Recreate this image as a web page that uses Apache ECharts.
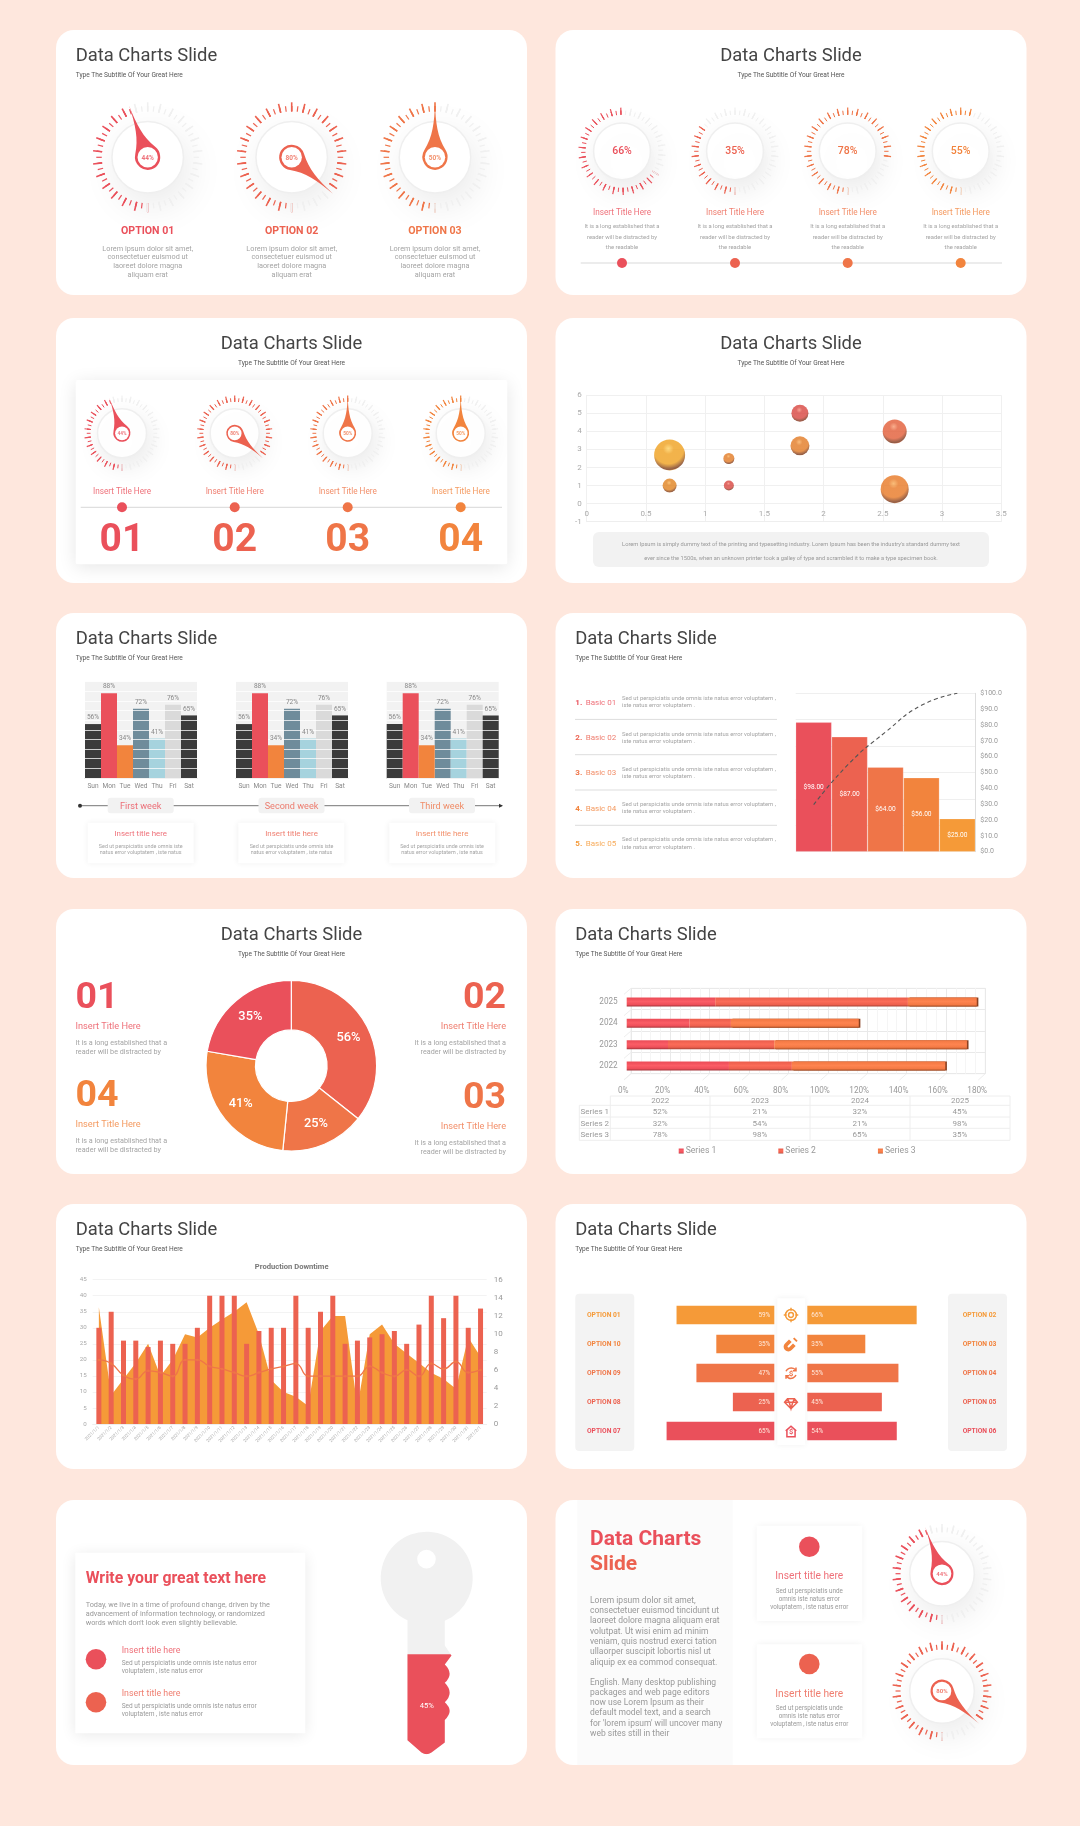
<!DOCTYPE html>
<html>
<head>
<meta charset="utf-8">
<title>Data Charts Slide</title>
<style>
html,body{margin:0;padding:0;background:#FEE7DD;}
#main{width:1080px;height:1826px;}
</style>
<script src="https://cdn.jsdelivr.net/npm/echarts@6/dist/echarts.min.js"></script>
</head>
<body>
<div id="main"></div>
<script>
/* palette */
var red = "#EA505B", coral = "#EC6250", flame = "#EF7548", orange = "#F2843D", amber = "#F59A38";
var paleTick = "#f0f0f0", grayText = "#a4a4a4", titleText = "#444444";

/* dials */
var threeDialLabels = [44, 80, 50];
var threeDialNeedles = [44.5, 86.5, 50];
var fourDialValues = [66, 35, 78, 55];
var fourDialStarts = [-33, 270, 270, 270];
var stripDialLabels = [44, 80, 50, 50];
var stripDialNeedles = [44.5, 86.5, 50, 50];
var sideDialLabels = [44, 80];
var sideDialNeedles = [44.5, 86.5];

/* bubbles */
var bubbleX = [0.7, 0.7, 1.2, 1.2, 1.8, 1.8, 2.6, 2.6];
var bubbleY = [2.7, 1, 2.5, 1, 5, 3.2, 4, 0.8];
var bubbleSize = [31, 14, 11, 10, 17, 19, 24, 28];
var bubbleColors = ["#EFA01E", "#E0821F", "#E27A24", "#D8453F", "#D8453F", "#E27A24", "#E25C36", "#E87824"];
var bubbleGlows = ["#FFD060", "#F8B458", "#F8B058", "#F58A78", "#F58A78", "#F8AC5C", "#F89A70", "#F8AC58"];

/* week bars */
var weekDays = ["Sun", "Mon", "Tue", "Wed", "Thu", "Fri", "Sat"];
var weekValues = [56, 88, 34, 72, 41, 76, 65];
var weekColors = ["#3b3b3b", red, orange, "#6F8C9B", "#A6D3DE", "#DADADA", "#3b3b3b"];
var weekNames = ["First week", "Second week", "Third week"];

/* pareto */
var basicNames = ["Basic 01", "Basic 02", "Basic 03", "Basic 04", "Basic 05"];
var basicValues = [98, 87, 64, 56, 25];
var basicCumulative = [29.7, 56, 75.5, 92.4, 100];

/* donut */
var donutValues = [56, 25, 41, 35];

/* stacked years */
var years = ["2022", "2023", "2024", "2025"];
var series1Share = [52, 21, 32, 45];
var series2Share = [32, 54, 21, 98];
var series3Share = [78, 98, 65, 35];

/* production downtime */
var downDates = ["2021/1/1", "2021/1/2", "2021/1/3", "2021/1/4", "2021/1/5", "2021/1/6", "2021/1/7", "2021/1/8", "2021/1/9", "2021/1/10", "2021/1/11", "2021/1/12", "2021/1/13", "2021/1/14", "2021/1/15", "2021/1/16", "2021/1/17", "2021/1/18", "2021/1/19", "2021/1/20", "2021/1/21", "2021/1/22", "2021/1/23", "2021/1/24", "2021/1/25", "2021/1/26", "2021/1/27", "2021/1/28", "2021/1/29", "2021/1/30", "2021/1/31", "2021/2/1"];
var downBars = [30, 35, 26, 26, 24, 26, 25, 25, 30, 40, 40, 40, 25, 29, 30, 30, 40, 30, 35, 40, 25, 26, 27, 28, 29, 25, 31, 40, 33, 40, 30, 36];
var downArea = [36.4, 9, 14, 19, 25, 15, 20, 28, 27, 30, 32.6, 35, 38, 28, 13.7, 10, 8.5, 5.6, 29, 33.7, 33.7, 5.4, 28, 31, 25, 22, 19, 16, 14, 11, 27, 21];
var downLine = [7.1, 6.7, 5.4, 5, 5.9, 5.7, 5.3, 7.1, 7.1, 6.4, 6.1, 5.7, 5.3, 5.7, 6.1, 6.4, 6.7, 5.3, 5.3, 5.3, 5.3, 5.3, 6.4, 5.7, 5.3, 6, 5.3, 6.7, 6.1, 6.9, 5.7, 6];

/* butterfly */
var leftOptions = ["OPTION 01", "OPTION 10", "OPTION 09", "OPTION 08", "OPTION 07"];
var rightOptions = ["OPTION 02", "OPTION 03", "OPTION 04", "OPTION 05", "OPTION 06"];
var leftShares = [59, 35, 47, 25, 65];
var rightShares = [66, 35, 55, 45, 54];
var rowColors = [amber, orange, flame, coral, red];

/* key */
var keyFill = 45;
var keyFull = 100;

var chart = echarts.init(document.getElementById("main"));
var grids = [], xAxes = [], yAxes = [], series = [], els = [];

function card(x, y, w, h) {
    els.push({type: "rect", z: -3, shape: {x: x, y: y, width: w, height: h, r: 18}, style: {fill: "#fff"}});
}

function box(x, y, w, h, opt) {
    opt = opt || {};
    els.push({type: "rect", z: opt.z == null ? -2 : opt.z, shape: {x: x, y: y, width: w, height: h, r: opt.r || 0},
        style: {fill: opt.fill || "#fff", shadowBlur: opt.blur || 0, shadowColor: opt.shadow || "transparent", shadowOffsetY: opt.dy || 0}});
}

function txt(x, y, s, size, color, align, weight) {
    // canvas "middle" sits a bit high, nudge by font size
    els.push({type: "text", z: 6, style: {x: x, y: y + size * 0.09, text: s, fill: color, align: align || "left", verticalAlign: "middle",
        fontSize: size, fontFamily: "Roboto", fontWeight: weight || "normal"}});
}

// the small coloured headings are paler than the full palette
function softTxt(x, y, s, size, color, align) {
    txt(x, y, s, size, color, align);
    els[els.length - 1].style.opacity = 0.82;
}

function lines(x, y, step, arr, size, color, align) {
    for (var i = 0; i < arr.length; i++) {
        txt(x, y + i * step, arr[i], size, color, align);
    }
}

function rule(x1, y1, x2, y2, color, width) {
    els.push({type: "line", z: -1, shape: {x1: x1, y1: y1, x2: x2, y2: y2}, style: {stroke: color, lineWidth: width || 1}});
}

function dot(x, y, r, color) {
    els.push({type: "circle", z: 4, shape: {cx: x, cy: y, r: r}, style: {fill: color}});
}

function slideTitle(cardX, cardY, centered) {
    var x = centered ? cardX + 235.5 : cardX + 19.7;
    var align = centered ? "center" : "left";
    txt(x, cardY + 24.5, "Data Charts Slide", 18.4, titleText, align);
    txt(x, cardY + 45, "Type The Subtitle Of Your Great Here", 6.6, "#555", align);
}

function addDial(cx, cy, r, value, color, opt) {
    opt = opt || {};
    var start = opt.start == null ? 270 : opt.start;
    els.push({type: "circle", z: -1, shape: {cx: cx, cy: cy, r: r * 0.65}, style: {fill: "#fff", stroke: "#efefef", lineWidth: 1.5,
        shadowBlur: r * 0.7, shadowOffsetX: r * 0.1, shadowOffsetY: r * 0.22, shadowColor: "rgba(0,0,0,0.09)"}});
    var label = opt.label == null ? value : opt.label;
    var gauge = {
        type: "gauge", center: [cx, cy], radius: r, startAngle: start, endAngle: start - 360, min: 0, max: 100, splitNumber: 26,
        axisLine: {show: false, lineStyle: {width: 0, color: [[value / 100, color], [1, paleTick]]}},
        splitLine: {length: r * 0.165, distance: 0, lineStyle: {color: "auto", width: r > 45 ? 1.6 : 1.2}},
        axisTick: {splitNumber: 2, length: r * 0.1, distance: r * 0.065, lineStyle: {color: "auto", width: r > 45 ? 1.2 : 1}},
        axisLabel: {show: false},
        title: {show: false},
        pointer: {show: false},
        anchor: {show: false},
        detail: {show: !opt.ring, offsetCenter: [0, 0], fontFamily: "Roboto", fontWeight: 500, color: color, fontSize: opt.labelSize || 7,
            formatter: function () { return label + "%"; }},
        data: [{value: value}]
    };
    if (opt.ring) {
        gauge.pointer = {show: true, icon: "path://M50 0C52 80 60 135 92 185A50 50 0 1 1 8 185C40 135 48 80 50 0Z",
            width: opt.ring * 2, length: r + opt.ring, offsetCenter: [0, opt.ring], itemStyle: {color: color}};
        gauge.anchor = {show: true, showAbove: true, icon: "circle", size: opt.ring * 1.62, itemStyle: {color: "#fff", borderWidth: 0}};
        // the anchor covers the gauge detail, so the label goes on top as text
        txt(cx, cy, label + "%", opt.labelSize, color, "center", "bold");
        els[els.length - 1].style.opacity = 0.8;
    }
    series.push(gauge);
}

function addCart(rect, x, y) {
    var g = grids.length;
    rect.containLabel = false;
    grids.push(rect);
    x.gridIndex = g;
    y.gridIndex = g;
    xAxes.push(x);
    yAxes.push(y);
    return {x: xAxes.length - 1, y: yAxes.length - 1};
}

/* ---- cards ---- */
var colX = [56, 555.5];
var rowY = [30, 318, 613, 909, 1204, 1500];
rowY.forEach(function (y) {
    colX.forEach(function (x) { card(x, y, 471, 265); });
});

/* ---- row 1 left: three dials ---- */
slideTitle(colX[0], rowY[0], false);
var threeX = [147.7, 291.7, 435];
var threeColors = [red, coral, flame];
threeX.forEach(function (x, i) {
    addDial(x, 157.3, 55, threeDialNeedles[i], threeColors[i], {ring: 12.6, label: threeDialLabels[i], labelSize: 6.5});
    txt(x, 230.7, "OPTION 0" + (i + 1), 10.6, threeColors[i], "center", "bold");
    lines(x, 248.3, 8.65, ["Lorem ipsum dolor sit amet,", "consectetuer euismod ut", "laoreet dolore magna", "aliquam erat"], 7.3, grayText, "center");
});

/* ---- row 1 right: four dials ---- */
slideTitle(colX[1], rowY[0], true);
var fourX = [622, 735, 847.7, 960.7];
var fourColors = [red, coral, flame, orange];
rule(580.7, 263, 1002, 263, "#e6e6e6", 1.5);
fourX.forEach(function (x, i) {
    addDial(x, 151.3, 43.7, fourDialValues[i], fourColors[i], {start: fourDialStarts[i], labelSize: 10.5});
    softTxt(x, 212, "Insert Title Here", 8.2, fourColors[i], "center");
    lines(x, 226.3, 10.5, ["It is a long established that a", "reader will be distracted by", "the readable"], 5.9, grayText, "center");
    dot(x, 263, 5, fourColors[i]);
});

/* ---- row 2 left: strip of dials ---- */
slideTitle(colX[0], rowY[1], true);
box(75.7, 380, 431.6, 184.3, {blur: 18, shadow: "rgba(0,0,0,0.10)", dy: 3, r: 2});
var stripX = [122, 234.7, 347.7, 460.7];
var stripColors = [red, coral, flame, orange];
var stripNames = ["01", "02", "03", "04"];
rule(80.7, 507.3, 502, 507.3, "#d8d8d8", 1);
stripX.forEach(function (x, i) {
    addDial(x, 433.3, 37.7, stripDialNeedles[i], stripColors[i], {ring: 8.5, label: stripDialLabels[i], labelSize: 4.8});
    softTxt(x, 491.7, "Insert Title Here", 8.2, stripColors[i], "center");
    dot(x, 507.3, 5, stripColors[i]);
    txt(x, 538, stripNames[i], 39, stripColors[i], "center", "bold");
});

/* ---- row 2 right: bubbles ---- */
slideTitle(colX[1], rowY[1], true);
// labels hang off the y=0 line, 18px above the bottom of the plot
var bubbleCart = addCart({left: 586.7, top: 395.3, width: 414.6, height: 126.4},
    {type: "value", min: 0, max: 3.5, interval: 0.5, axisLine: {onZero: false, lineStyle: {color: "#eeeeee"}}, axisTick: {show: false},
        axisLabel: {color: "#aaa", fontSize: 8, margin: -12}, splitLine: {show: true, lineStyle: {color: "#f0f0f0"}}},
    {type: "value", min: -1, max: 6, interval: 1, axisLine: {show: true, onZero: false, lineStyle: {color: "#f0f0f0"}}, axisTick: {show: false},
        axisLabel: {color: "#aaa", fontSize: 8, margin: 5}, splitLine: {lineStyle: {color: "#f0f0f0"}}});
series.push({
    type: "scatter", xAxisIndex: bubbleCart.x, yAxisIndex: bubbleCart.y,
    symbolSize: function (v) { return v[2]; },
    data: bubbleX.map(function (x, i) {
        return {value: [x, bubbleY[i], bubbleSize[i]], itemStyle: {color: new echarts.graphic.RadialGradient(0.46, 0.3, 0.72, [
            {offset: 0, color: bubbleGlows[i]}, {offset: 0.24, color: bubbleColors[i]}, {offset: 0.68, color: bubbleColors[i]}, {offset: 0.93, color: "#74341A"}, {offset: 1, color: bubbleColors[i]}
        ])}};
    })
});
box(593, 532, 396, 35, {fill: "#f2f2f2", r: 6});
lines(791, 544, 14, ["Lorem Ipsum is simply dummy text of the printing and typesetting industry. Lorem Ipsum has been the industry's standard dummy text",
    "ever since the 1500s, when an unknown printer took a galley of type and scrambled it to make a type specimen book."], 5.7, "#999", "center");

/* ---- row 3 left: week bars ---- */
slideTitle(colX[0], rowY[2], false);
var weekLeft = [85, 236, 386.7];
var weekCenter = [140.7, 291.5, 442];
var weekTitleColors = [red, coral, flame];
var weekBoxX = [87.7, 238.3, 389.3];
rule(80, 805.7, 502, 805.7, "#777", 1);
dot(80, 805.7, 2, "#333");
els.push({type: "polygon", z: 4, shape: {points: [[499, 803.7], [503, 805.7], [499, 807.7]]}, style: {fill: "#333"}});
weekLeft.forEach(function (left, w) {
    var cart = addCart({left: left, top: 681.7, width: 112, height: 96.3, show: true, backgroundColor: "#f2f2f2", borderWidth: 0},
        {type: "category", data: weekDays, axisLine: {lineStyle: {color: "#ccc"}}, axisTick: {show: false},
            axisLabel: {interval: 0, color: "#888", fontSize: 6.6, margin: 5}},
        {type: "value", min: 0, max: 100, interval: 10, z: 3, axisLabel: {show: false}, axisLine: {show: false}, axisTick: {show: false},
            splitLine: {lineStyle: {color: "rgba(255,255,255,0.75)", width: 1}}});
    // Mon and Tue sit over the white rules, the others under them
    [false, true].forEach(function (upper) {
        series.push({
            type: "bar", xAxisIndex: cart.x, yAxisIndex: cart.y, barCategoryGap: 0, barGap: "-100%", z: upper ? 4 : 2,
            data: weekValues.map(function (v, i) {
                var top = i === 1 || i === 2;
                return top === upper ? {value: v, itemStyle: {color: weekColors[i]}} : {value: null};
            })
        });
    });
    // clear bars on top only to carry the labels above the rules
    series.push({
        type: "bar", xAxisIndex: cart.x, yAxisIndex: cart.y, barCategoryGap: 0, barGap: "-100%", z: 5, itemStyle: {color: "transparent"},
        label: {show: true, position: "top", distance: 3, color: "#888", fontSize: 6.6, formatter: "{c}%"},
        data: weekValues
    });
    box(weekCenter[w] - 33, 797.7, 66, 15.6, {fill: "#f2f2f2", r: 3, z: 0});
    softTxt(weekCenter[w], 805.7, weekNames[w], 9.1, weekTitleColors[w], "center");
    box(weekBoxX[w], 822.7, 106, 40.6, {blur: 6, shadow: "rgba(0,0,0,0.07)"});
    softTxt(weekCenter[w], 833, "Insert title here", 7.9, weekTitleColors[w], "center");
    lines(weekCenter[w], 846, 6.4, ["Sed ut perspiciatis unde omnis iste", "natus error voluptatem , iste natus"], 5.4, grayText, "center");
});

/* ---- row 3 right: pareto ---- */
slideTitle(colX[1], rowY[2], false);
var basicColors = [red, coral, flame, orange, amber];
basicNames.forEach(function (name, i) {
    var y = 702 + i * 35.3;
    txt(575.3, y, (i + 1) + ".", 8, basicColors[i], "left", "bold");
    softTxt(585.7, y, name, 8, basicColors[i]);
    lines(622, y - 3.7, 7.2, ["Sed ut perspiciatis unde omnis iste natus error voluptatem ,", "iste natus error voluptatem ."], 5.85, grayText);
    if (i < 4) { rule(575, y + 17.4, 777, y + 17.4, "#dddddd", 1); }
});
var paretoCart = addCart({left: 795.7, top: 693.3, width: 179.6, height: 158.4},
    {type: "category", data: basicNames, axisLabel: {show: false}, axisTick: {show: false}, axisLine: {show: false}},
    {type: "value", min: 0, max: 120, interval: 20, axisLabel: {show: false}, axisLine: {show: false}, axisTick: {show: false},
        splitLine: {lineStyle: {color: "#efefef"}}});
yAxes.push({gridIndex: grids.length - 1, type: "value", position: "right", min: 0, max: 100, interval: 10,
    axisLine: {show: true, lineStyle: {color: "#dddddd"}}, axisTick: {show: false}, splitLine: {show: false},
    axisLabel: {color: "#999", fontSize: 7, margin: 5, formatter: function (v) { return "$" + v.toFixed(1); }}});
series.push({
    type: "bar", xAxisIndex: paretoCart.x, yAxisIndex: paretoCart.y, barCategoryGap: 0,
    label: {show: true, position: "inside", color: "#fff", fontSize: 6.6, formatter: function (p) { return "$" + p.value.toFixed(2); }},
    data: basicValues.map(function (v, i) {
        return {value: v, itemStyle: {color: basicColors[i], borderColor: "rgba(255,255,255,0.4)", borderWidth: 0.5}};
    })
});
series.push({
    type: "line", xAxisIndex: paretoCart.x, yAxisIndex: yAxes.length - 1, smooth: true, symbol: "none", z: 5,
    lineStyle: {color: "#555", width: 1.1, type: [4, 3]}, data: basicCumulative
});

/* ---- row 4 left: donut ---- */
slideTitle(colX[0], rowY[3], true);
series.push({
    type: "pie", center: [291.3, 1065.7], radius: [35.8, 85.3], startAngle: 90, silent: true,
    itemStyle: {borderColor: "#fff", borderWidth: 1.2},
    label: {show: true, position: "inside", color: "#fff", fontFamily: "Roboto", fontWeight: 500, fontSize: 12.8, formatter: "{c}%"},
    labelLine: {show: false},
    data: donutValues.map(function (v, i) {
        return {value: v, itemStyle: {color: [coral, flame, orange, red][i]}};
    })
});
function donutNote(x, numY, label, color, align, titleY, lineY) {
    txt(x, numY, label, 37.5, color, align, "bold");
    softTxt(x, titleY, "Insert Title Here", 9.2, color, align);
    lines(x, lineY, 8.65, ["It is a long established that a", "reader will be distracted by"], 7.2, grayText, align);
}
donutNote(75.5, 995, "01", red, "left", 1026, 1042.7);
donutNote(75.5, 1093.3, "04", orange, "left", 1124.3, 1141);
donutNote(506, 995, "02", coral, "right", 1026, 1042.7);
donutNote(506, 1095, "03", flame, "right", 1126, 1142.7);

/* ---- row 4 right: stacked years ---- */
slideTitle(colX[1], rowY[3], false);
// back wall of the fake 3d plot
var wallCart = addCart({left: 631, top: 988.3, width: 354.3, height: 85.4, show: true, borderColor: "#eeeeee", borderWidth: 1, backgroundColor: "transparent"},
    {type: "value", min: 0, max: 180, interval: 20, axisLine: {show: false}, axisTick: {show: false}, axisLabel: {show: false},
        splitLine: {lineStyle: {color: "#e9e9e9"}}, minorTick: {show: false, splitNumber: 4}, minorSplitLine: {show: true, lineStyle: {color: "#f5f5f5"}}},
    {type: "value", min: 0, max: 4, interval: 1, axisLine: {show: false}, axisTick: {show: false}, axisLabel: {show: false},
        splitLine: {lineStyle: {color: "#e9e9e9"}}});
for (var t = 0; t <= 9; t++) {
    var floorX = 631 + t * 354.3 / 9;
    rule(floorX, 1073.7, floorX - 7, 1080, "#eeeeee", 1);
}
for (var h = 0; h <= 4; h++) {
    var wallY = 988.3 + h * 85.4 / 4;
    rule(631, wallY, 624, wallY + 6, "#eeeeee", 1);
}
var yearCart = addCart({left: 626.7, top: 991.3, width: 354, height: 85.4},
    {type: "value", min: 0, max: 180, interval: 20, splitLine: {show: false}, axisLine: {show: false}, axisTick: {show: false},
        axisLabel: {color: "#999", fontSize: 8.2, margin: 10, padding: [0, 7, 0, 0], formatter: "{value}%"}},
    {type: "category", data: years, axisLine: {show: false}, axisTick: {show: false},
        axisLabel: {color: "#999", fontSize: 8.2, margin: 9, padding: [5, 0, 0, 0]}});
function tube(light, mid, dark) {
    return new echarts.graphic.LinearGradient(0, 0, 0, 1, [
        {offset: 0, color: mid}, {offset: 0.12, color: mid}, {offset: 0.45, color: light}, {offset: 0.78, color: mid}, {offset: 1, color: dark}
    ]);
}
var yearSeries = [
    {name: "Series 1", data: series1Share, color: tube("#FB5D66", "#EE4F5A", "#A5353B")},
    {name: "Series 2", data: series2Share, color: tube("#FB6C58", "#EE604E", "#A84234")},
    {name: "Series 3", data: series3Share, color: tube("#FE8450", "#F47A45", "#AE5228")}
];
yearSeries.forEach(function (s, i) {
    var style = {color: s.color};
    if (i === 2) {
        style.shadowColor = "#8A4020";
        style.shadowOffsetX = 1.6;
        style.shadowBlur = 0;
    }
    series.push({type: "bar", name: s.name, stack: "years", barWidth: 9, xAxisIndex: yearCart.x, yAxisIndex: yearCart.y,
        itemStyle: style, data: s.data});
});
// data table under the plot
var tableCols = [610.3, 710, 810, 910, 1010];
var tableRowsY = [1096, 1105.3, 1117, 1128.3, 1140.3];
tableRowsY.forEach(function (y, i) {
    rule(i === 0 ? 610.3 : 579.3, y, 1010, y, "#eeeeee", 1);
});
rule(579.3, 1105.3, 579.3, 1140.3, "#eeeeee", 1);
tableCols.forEach(function (x) { rule(x, 1096, x, 1140.3, "#eeeeee", 1); });
years.forEach(function (y, c) {
    txt(tableCols[c] + 50, 1100.6, y, 8, "#999", "center");
    yearSeries.forEach(function (s, r) {
        txt(tableCols[c] + 50, 1111.3 + r * 11.6, s.data[c] + "%", 8, "#999", "center");
    });
});
yearSeries.forEach(function (s, r) {
    txt(580.5, 1111.3 + r * 11.6, s.name, 8, "#999");
});

/* ---- row 5 left: production downtime ---- */
slideTitle(colX[0], rowY[4], false);
txt(291.7, 1266, "Production Downtime", 7.6, "#777", "center", "bold");
var downCart = addCart({left: 92.7, top: 1279.7, width: 394, height: 144.3},
    {type: "category", data: downDates, axisLine: {lineStyle: {color: "#eeeeee"}}, axisTick: {show: false},
        axisLabel: {interval: 0, rotate: 45, color: "#aaa", fontSize: 4.4, margin: 3}},
    {type: "value", min: 0, max: 45, interval: 5, axisLine: {show: false}, axisTick: {show: false},
        axisLabel: {color: "#aaa", fontSize: 6.2, margin: 6}, splitLine: {lineStyle: {color: "#f3f3f3"}}});
yAxes.push({gridIndex: grids.length - 1, type: "value", position: "right", min: 0, max: 16, interval: 2, axisLine: {show: false}, axisTick: {show: false},
    splitLine: {show: false}, axisLabel: {color: "#999", fontSize: 8, margin: 7}});
series.push({type: "line", xAxisIndex: downCart.x, yAxisIndex: downCart.y, symbol: "none", z: 1,
    lineStyle: {width: 0}, areaStyle: {color: amber, opacity: 1}, data: downArea});
series.push({type: "bar", xAxisIndex: downCart.x, yAxisIndex: downCart.y, barWidth: 5, z: 2, itemStyle: {color: coral}, data: downBars});
series.push({type: "line", xAxisIndex: downCart.x, yAxisIndex: yAxes.length - 1, smooth: true, z: 3, symbol: "circle", symbolSize: 2.5,
    itemStyle: {color: flame}, lineStyle: {color: flame, width: 1.3}, data: downLine});

/* ---- row 5 right: butterfly bars ---- */
slideTitle(colX[1], rowY[4], false);
box(575.3, 1293.7, 59, 157.3, {fill: "#f3f3f3", r: 4});
box(948, 1293.7, 59, 157.3, {fill: "#f3f3f3", r: 4});
box(777.3, 1298.3, 28, 146.7, {blur: 6, shadow: "rgba(0,0,0,0.06)"});
function wing(left, inverse, values, side) {
    var cart = addCart({left: left, top: 1300.5, width: 165.7, height: 145},
        {type: "value", min: 0, max: 100, inverse: inverse, show: false},
        {type: "category", data: side, inverse: true, show: false});
    series.push({
        type: "bar", xAxisIndex: cart.x, yAxisIndex: cart.y, barWidth: 18.3,
        label: {show: true, position: inverse ? "insideRight" : "insideLeft", distance: 4, color: "#ffe9dc", fontSize: 6.4, formatter: "{c}%"},
        data: values.map(function (v, i) { return {value: v, itemStyle: {color: rowColors[i]}}; })
    });
}
wing(608.6, true, leftShares, leftOptions);
wing(807.3, false, rightShares, rightOptions);
leftOptions.forEach(function (name, i) {
    var y = 1314.6 + i * 29.1;
    txt(587, y, name, 6.7, rowColors[i], "left", "bold");
    txt(962.7, y, rightOptions[i], 6.7, rowColors[i], "left", "bold");
});
// graphic has no plain path type, so the icons are registered as shapes (drawn on a 24 unit box)
function icon(i, path, fill, size) {
    var name = "rowIcon" + i;
    echarts.graphic.registerShape(name, echarts.graphic.extendPath(path, {}));
    var scale = size / 24;
    els.push({type: name, z: 5, x: 791 - size / 2, y: 1315 + i * 29.1 - size / 2, scaleX: scale, scaleY: scale,
        style: fill ? {fill: rowColors[i]} : {fill: "none", stroke: rowColors[i], lineWidth: 1.5 / scale}});
}
icon(0, "M12 3A9 9 0 1 1 11.99 3ZM12 8A4 4 0 1 1 11.99 8ZM12 0V5M12 19V24M0 12H5M19 12H24", false, 14.5);
icon(1, "M9 5L3 11A7 7 0 0 0 13 21L19 15L15 11L9 17A1.5 1.5 0 0 1 7 15L13 9ZM17 2L22 7L20 9L15 4Z", true, 16);
icon(2, "M4 9A9 9 0 0 1 20 8M20 15A9 9 0 0 1 4 16M20 3V8H15M4 21V16H9", false, 15);
txt(791, 1373.3, "$", 8, rowColors[2], "center", "bold");
icon(3, "M6 6H18L23 12L12 23L1 12ZM1 12H23M6 6L9 12L12 23L15 12L18 6", false, 14);
icon(4, "M3 11L12 3L21 11M5 10V21H19V10", false, 14);
txt(791, 1431.6, "$", 7.4, rowColors[4], "center", "bold");

/* ---- row 6 left: key ---- */
box(75.3, 1552.7, 230, 180.6, {blur: 14, shadow: "rgba(0,0,0,0.09)", dy: 2});
txt(85.7, 1577.3, "Write your great text here", 15.8, red, "left", "bold");
lines(85.7, 1605, 8.65, ["Today, we live in a time of profound change, driven by the", "advancement of information technology, or randomized", "words which don't look even slightly believable."], 7.3, "#999");
[[1659.3, red, 1649.7, 1663], [1702.3, coral, 1692.7, 1706]].forEach(function (r) {
    dot(96, r[0], 10.3, r[1]);
    softTxt(121.7, r[2], "Insert title here", 8.8, r[1]);
    lines(121.7, r[3], 8, ["Sed ut perspiciatis unde omnis iste natus error", "voluptatem , iste natus error"], 6.55, "#999");
});
var keyPath = "path://M27 88A46 46 0 1 1 64.3 88.5L64.3 113L71 123L64.3 131.7Q74 141 64.3 150Q74 160 64.3 169.3Q74 178 64.3 186.7L64.3 209L51 219Q46 222.6 41 219L27 207ZM46 18A9.3 9.3 0 1 0 46 36.6A9.3 9.3 0 1 0 46 18Z";
var keyCart = addCart({left: 380.7, top: 1531.7, width: 92, height: 222.6},
    {type: "category", data: ["key"], show: false},
    {type: "value", min: 0, max: keyFull, show: false});
series.push({type: "pictorialBar", xAxisIndex: keyCart.x, yAxisIndex: keyCart.y, barCategoryGap: 0, barGap: "-100%", z: 2,
    symbol: keyPath, symbolSize: ["100%", "100%"], symbolBoundingData: keyFull, itemStyle: {color: "#f1f1f1"}, data: [keyFull]});
series.push({type: "pictorialBar", xAxisIndex: keyCart.x, yAxisIndex: keyCart.y, barCategoryGap: 0, barGap: "-100%", z: 3,
    symbol: keyPath, symbolSize: ["100%", "100%"], symbolBoundingData: keyFull, symbolClip: true, itemStyle: {color: red},
    label: {show: true, position: "inside", offset: [0, 63], color: "#fff", fontSize: 7.6, formatter: "{c}%"}, data: [keyFill]});

/* ---- row 6 right ---- */
box(577.3, 1500, 155.4, 265, {fill: "#fbfbfb", z: -2});
txt(590, 1537.7, "Data Charts", 21, red, "left", "bold");
txt(590, 1562.7, "Slide", 21, coral, "left", "bold");
lines(590, 1600, 10.27, ["Lorem ipsum dolor sit amet,", "consectetuer euismod tincidunt ut", "laoreet dolore magna aliquam erat", "volutpat. Ut wisi enim ad minim", "veniam, quis nostrud exerci tation", "ullaorper suscipit lobortis nisl ut", "aliquip ex ea commod consequat."], 8.5, "#999");
lines(590, 1681.7, 10.27, ["English. Many desktop publishing", "packages and web page editors", "now use Lorem Ipsum as their", "default model text, and a search", "for 'lorem ipsum' will uncover many", "web sites still in their"], 8.5, "#999");
[[1525.7, 95.3, 1546.7, 1576, 1590.7, red], [1644.3, 94, 1664, 1693.7, 1708.3, coral]].forEach(function (r) {
    box(756.7, r[0], 105.6, r[1], {blur: 7, shadow: "rgba(0,0,0,0.07)"});
    dot(809.3, r[2], 10.3, r[5]);
    softTxt(809.3, r[3], "Insert title here", 10.2, r[5], "center");
    lines(809.3, r[4], 8, ["Sed ut perspiciatis unde", "omnis iste natus error", "voluptatem , iste natus error"], 6.3, "#999", "center");
});
addDial(942, 1573.7, 49.7, sideDialNeedles[0], red, {ring: 11.5, label: sideDialLabels[0], labelSize: 6});
addDial(942, 1691, 49.7, sideDialNeedles[1], coral, {ring: 11.5, label: sideDialLabels[1], labelSize: 6});

chart.setOption({
    animation: false,
    backgroundColor: "#FEE7DD",
    textStyle: {fontFamily: "Roboto"},
    graphic: {elements: els},
    grid: grids,
    xAxis: xAxes,
    yAxis: yAxes,
    legend: {
        data: ["Series 1", "Series 2", "Series 3"], left: 673.7, top: 1141.5, itemWidth: 5, itemHeight: 5, itemGap: 62, selectedMode: false,
        icon: "rect", textStyle: {color: "#999", fontSize: 8.6, fontFamily: "Roboto", padding: [0, 0, 0, -3]}
    },
    series: series
});
</script>
</body>
</html>
